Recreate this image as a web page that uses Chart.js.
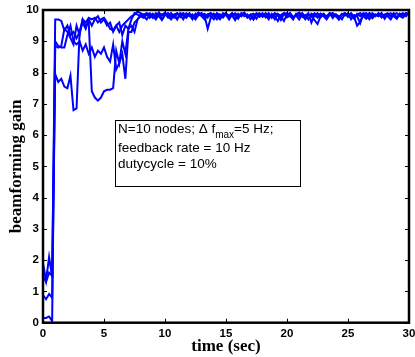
<!DOCTYPE html>
<html>
<head>
  <title>Beamforming gain vs time</title>
  <script src="https://cdn.jsdelivr.net/npm/chart.js"></script>
  <style>
    body { margin: 0; background: #fff; }
  </style>
</head>
<body>
  <canvas id="gainChart" width="415" height="357"></canvas>

  <script>
    // one sample every 0.25 s, from 0 to 30 s
    const STEP = 0.25;

    const gainA = [
      1.9, 1.35, 2.1, 1.45, 9.7, 9.7, 9.65, 9.35, 9.5, 9.2, 9.3, 9.1, 9.3, 9.7, 9.6, 9.75,
      9.7, 9.75, 9.6, 9.7, 9.75, 9.6, 9.4, 9.35, 9.5, 9.3, 9.5, 9.6, 9.7, 9.8, 9.85, 9.95, 9.9,
      9.85, 9.9, 9.8, 9.88, 9.75, 9.9, 9.85, 9.92, 9.8, 9.7, 9.85, 9.9, 9.78, 9.88, 9.82, 9.9, 9.75, 9.85, 9.92, 9.8,
      9.7, 9.86, 9.9, 9.8, 9.88, 9.76, 9.9, 9.84, 9.7, 9.85, 9.9, 9.8, 9.86, 9.92, 9.78, 9.85, 9.7, 9.88, 9.82, 9.9,
      9.76, 9.86, 9.8, 9.9, 9.84, 9.72, 9.88, 9.8, 9.9, 9.75, 9.85, 9.92, 9.82, 9.7, 9.86, 9.8, 9.9, 9.78, 9.88, 9.84,
      9.75, 9.9, 9.82, 9.86, 9.7, 9.85, 9.9, 9.8, 9.88, 9.76, 9.84, 9.9, 9.8, 9.72, 9.86, 9.9, 9.82, 9.88, 9.78, 9.85,
      9.9, 9.8, 9.86, 9.74, 9.88, 9.82, 9.9, 9.86
    ];
    const gainB = [
      1.5, 1.3, 1.6, 1.5, 9.0, 8.85, 8.8, 8.8, 9.2, 9.5, 9.0, 8.9, 9.0, 8.7, 8.9, 8.6,
      8.8, 8.5, 8.7, 8.6, 8.8, 8.5, 8.35, 8.9, 8.1, 8.3, 8.6, 7.8, 9.3, 9.3, 9.6, 9.7, 9.85,
      9.8, 9.7, 9.85, 9.75, 9.9, 9.8, 9.68, 9.85, 9.9, 9.78, 9.86, 9.7, 9.9, 9.82, 9.75, 9.88, 9.8, 9.7, 9.86, 9.9,
      9.8, 9.4, 9.75, 9.88, 9.8, 9.7, 9.85, 9.9, 9.76, 9.82, 9.68, 9.88, 9.8, 9.9, 9.75, 9.84, 9.7, 9.86, 9.9, 9.78,
      9.85, 9.7, 9.88, 9.8, 9.65, 9.84, 9.9, 9.76, 9.82, 9.7, 9.88, 9.8, 9.9, 9.74, 9.86, 9.8, 9.68, 9.55, 9.8, 9.88,
      9.76, 9.85, 9.9, 9.8, 9.7, 9.86, 9.9, 9.78, 9.84, 9.72, 9.88, 9.8, 9.9, 9.82, 9.7, 9.86, 9.8, 9.9, 9.76, 9.85,
      9.8, 9.7, 9.86, 9.9, 9.8, 9.75, 9.88, 9.9
    ];
    const gainC = [
      0.88, 0.75, 0.92, 0.8, 7.95, 7.7, 7.8, 7.55, 7.5, 7.9, 6.8, 6.85, 9.3, 9.6, 9.4, 9.7,
      9.5, 9.7, 9.8, 9.6, 9.7, 9.5, 9.6, 9.3, 9.5, 9.6, 9.2, 9.5, 9.4, 9.7, 9.9, 9.85, 9.8,
      9.82, 9.9, 9.75, 9.86, 9.8, 9.92, 9.7, 9.85, 9.8, 9.9, 9.76, 9.88, 9.84, 9.7, 9.9, 9.8, 9.86, 9.75, 9.9, 9.82,
      9.88, 9.76, 9.9, 9.82, 9.7, 9.86, 9.8, 9.9, 9.75, 9.88, 9.84, 9.72, 9.9, 9.8, 9.86, 9.7, 9.82, 9.9, 9.78, 9.86,
      9.8, 9.9, 9.75, 9.86, 9.82, 9.68, 9.88, 9.9, 9.8, 9.74, 9.86, 9.9, 9.78, 9.84, 9.7, 9.88, 9.82, 9.9, 9.76, 9.86,
      9.8, 9.9, 9.74, 9.86, 9.8, 9.7, 9.88, 9.82, 9.9, 9.78, 9.5, 9.62, 9.86, 9.8, 9.9, 9.75, 9.85, 9.8, 9.9, 9.72,
      9.86, 9.8, 9.9, 9.76, 9.84, 9.9, 9.8, 9.92
    ];
    const gainD = [
      0.15, 0.15, 0.2, 0.05, 8.85, 8.8, 8.85, 9.4, 9.3, 9.1, 8.9, 9.5, 9.2, 9.7, 9.5, 9.6,
      7.4, 7.2, 7.1, 7.2, 7.4, 7.45, 7.45, 7.5, 8.7, 8.3, 9.0, 8.6, 9.4, 9.5, 9.3, 9.7, 9.8,
      9.75, 9.85, 9.9, 9.8, 9.7, 9.86, 9.82, 9.9, 9.76, 9.88, 9.8, 9.72, 9.86, 9.9, 9.8, 9.85, 9.7, 9.88, 9.82, 9.9,
      9.78, 9.86, 9.8, 9.7, 9.9, 9.84, 9.76, 9.88, 9.82, 9.9, 9.7, 9.86, 9.8, 9.9, 9.78, 9.85, 9.88, 9.72, 9.86, 9.8,
      9.9, 9.76, 9.84, 9.7, 9.88, 9.8, 9.65, 9.86, 9.9, 9.78, 9.82, 9.7, 9.88, 9.8, 9.9, 9.6, 9.84, 9.76, 9.88, 9.8,
      9.7, 9.86, 9.9, 9.8, 9.76, 9.88, 9.82, 9.9, 9.7, 9.84, 9.8, 9.58, 9.88, 9.9, 9.8, 9.74, 9.86, 9.82, 9.9, 9.78,
      9.85, 9.9, 9.8, 9.72, 9.88, 9.82, 9.9, 9.85
    ];

    const xTicks = [0, 5, 10, 15, 20, 25, 30];
    const yTicks = [0, 1, 2, 3, 4, 5, 6, 7, 8, 9, 10];

    const series = [gainA, gainB, gainC, gainD];
    const times = gainA.map((v, i) => i * STEP);

    const tickFont = { family: "'Liberation Sans', Arial, sans-serif", size: 11.5, weight: "bold" };

    // MATLAB style box: inward ticks on all sides, axis titles, annotation
    const framePlugin = {
      id: "frame",
      afterDatasetsDraw(chart) {
        const { ctx, chartArea: a, scales } = chart;
        const x = scales.x, y = scales.y;
        ctx.save();
        ctx.strokeStyle = "#000";
        ctx.lineWidth = 1;
        ctx.beginPath();
        xTicks.forEach(t => {
          const px = Math.round(x.getPixelForValue(t)) + 0.5;
          ctx.moveTo(px, a.bottom); ctx.lineTo(px, a.bottom - 4);
          ctx.moveTo(px, a.top); ctx.lineTo(px, a.top + 4);
        });
        yTicks.forEach(t => {
          const py = Math.round(y.getPixelForValue(t)) + 0.5;
          ctx.moveTo(a.left, py); ctx.lineTo(a.left + 4, py);
          ctx.moveTo(a.right, py); ctx.lineTo(a.right - 4, py);
        });
        ctx.stroke();

        ctx.lineWidth = 2.5;
        ctx.strokeRect(a.left, a.top, a.right - a.left, a.bottom - a.top);

        // annotation box
        const bx = 115.5, by = 120.5, bw = 185, bh = 66;
        ctx.fillStyle = "#fff";
        ctx.fillRect(bx, by, bw, bh);
        ctx.lineWidth = 1;
        ctx.strokeRect(bx, by, bw, bh);

        ctx.fillStyle = "#000";
        ctx.textAlign = "left";
        ctx.textBaseline = "alphabetic";
        const big = "13.5px 'Liberation Sans', Arial, sans-serif";
        const small = "10px 'Liberation Sans', Arial, sans-serif";
        let tx = 118;
        ctx.font = big;
        const part1 = "N=10 nodes; \u0394 f";
        ctx.fillText(part1, tx, 133);
        tx += ctx.measureText(part1).width;
        ctx.font = small;
        ctx.fillText("max", tx, 138);
        tx += ctx.measureText("max").width;
        ctx.font = big;
        ctx.fillText("=5 Hz;", tx, 133);
        ctx.fillText("feedback rate = 10 Hz", 118, 152);
        ctx.fillText("dutycycle = 10%", 118, 168);

        // axis titles
        ctx.font = "bold 17px 'Liberation Serif', 'Times New Roman', serif";
        ctx.textAlign = "center";
        ctx.fillText("time (sec)", (a.left + a.right) / 2, 351);
        ctx.translate(21, (a.top + a.bottom) / 2);
        ctx.rotate(-Math.PI / 2);
        ctx.fillText("beamforming gain", 0, 0);
        ctx.restore();
      }
    };

    new Chart(document.getElementById("gainChart"), {
      type: "line",
      data: {
        labels: times,
        datasets: series.map(s => ({
          data: s.map((v, i) => ({ x: times[i], y: v })),
          borderColor: "#0000ff",
          borderWidth: 2,
          pointRadius: 0,
          tension: 0,
          fill: false,
        })),
      },
      options: {
        responsive: false,
        animation: false,
        events: [],
        layout: { padding: { top: 10, right: 6, left: 0, bottom: 0 } },
        plugins: { legend: { display: false }, tooltip: { enabled: false } },
        scales: {
          x: {
            type: "linear",
            min: 0,
            max: 30,
            afterBuildTicks: s => { s.ticks = xTicks.map(v => ({ value: v })); },
            afterFit: s => { s.height = 34.3; s.paddingLeft = 0; s.paddingRight = 0; },
            grid: { display: false, drawTicks: false },
            border: { display: false },
            ticks: { color: "#000", font: tickFont, padding: 4, maxRotation: 0 },
          },
          y: {
            min: 0,
            max: 10,
            afterBuildTicks: s => { s.ticks = yTicks.map(v => ({ value: v })); },
            afterFit: s => { s.width = 43; s.paddingTop = 0; s.paddingBottom = 0; },
            grid: { display: false, drawTicks: false },
            border: { display: false },
            ticks: { color: "#000", font: tickFont, padding: 4 },
          },
        },
      },
      plugins: [framePlugin],
    });
  </script>
</body>
</html>
